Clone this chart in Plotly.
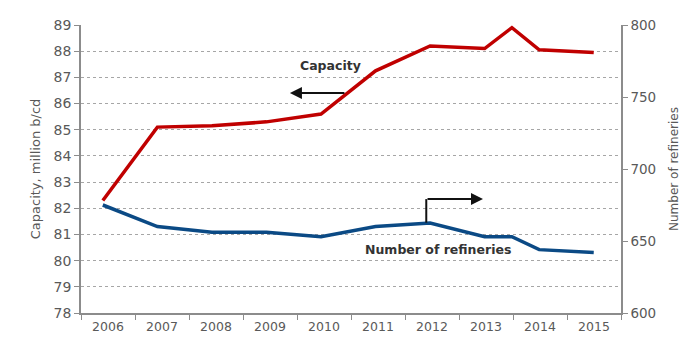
import numpy as np
import plotly.graph_objects as go

years = [2006, 2007, 2008, 2009, 2010, 2011, 2012, 2013, 2014, 2015]
year_labels = [str(y) for y in years]

cap_x = [2006, 2007, 2008, 2009, 2010, 2011, 2012, 2013, 2013.5, 2014, 2015]
capacity = [82.3, 85.1, 85.15, 85.3, 85.6, 87.25, 88.2, 88.1, 88.9, 88.05, 87.95]

ref_x = [2006, 2007, 2008, 2009, 2010, 2011, 2012, 2013, 2013.5, 2014, 2015]
refineries = [675, 660, 656, 656, 653, 660, 662.5, 653, 653, 644, 642]

left_ticks = list(range(78, 90))
right_ticks = [600, 650, 700, 750, 800]

XR = [2005.6, 2015.5]
bounds = list(np.linspace(XR[0], XR[1], len(years) + 1))
centers = [(bounds[i] + bounds[i + 1]) / 2 for i in range(len(years))]

FONT = "DejaVu Sans"
GRAY = "#595959"
AX = "#8c8c8c"

fig = go.Figure()
fig.add_trace(go.Scatter(x=cap_x, y=capacity, mode="lines",
                         line=dict(color="#C00000", width=3.5), xaxis="x", yaxis="y"))
fig.add_trace(go.Scatter(x=ref_x, y=refineries, mode="lines",
                         line=dict(color="#0B4A85", width=3.5), xaxis="x", yaxis="y2"))

fig.update_layout(
    width=700, height=351,
    margin=dict(l=81, r=79, t=25, b=38),
    paper_bgcolor="white", plot_bgcolor="white",
    showlegend=False,
    font=dict(family=FONT, color=GRAY),
    xaxis=dict(range=XR, tickmode="array", tickvals=bounds, showticklabels=False,
               ticks="outside", ticklen=5, tickcolor=AX, showgrid=False,
               showline=True, linecolor=AX, linewidth=1.5, zeroline=False),
    xaxis2=dict(range=XR, overlaying="x", tickmode="array", tickvals=centers,
                ticktext=year_labels, ticks="", showgrid=False, showline=False,
                zeroline=False, side="bottom", tickfont=dict(size=12.5, color=GRAY),
                ticklabelstandoff=4),
    yaxis=dict(range=[78, 89], tickmode="array", tickvals=left_ticks,
               ticks="outside", ticklen=5, tickcolor=AX,
               showgrid=True, gridcolor="#a6a6a6", griddash="dot", gridwidth=1,
               showline=True, linecolor=AX, linewidth=1.5, zeroline=False,
               tickfont=dict(size=14, color=GRAY),
               title=dict(text="Capacity, million b/cd", font=dict(size=13, color=GRAY),
                          standoff=10)),
    yaxis2=dict(range=[600, 800], overlaying="y", side="right", tickmode="array",
                tickvals=right_ticks, ticks="outside", ticklen=5, tickcolor=AX,
                showgrid=False, showline=True, linecolor=AX, linewidth=1.5,
                zeroline=False, tickfont=dict(size=13.5, color=GRAY),
                title=dict(text="Number of refineries", font=dict(size=12, color=GRAY),
                           standoff=14)),
)
# invisible trace to activate xaxis2 (label axis)
fig.add_trace(go.Scatter(x=[XR[0]], y=[78], mode="markers", marker=dict(opacity=0),
                         xaxis="x2", yaxis="y", hoverinfo="skip"))

# Capacity label and arrow
fig.add_annotation(x=2010.18, y=87.47, xref="x", yref="y", text="<b>Capacity</b>",
                   showarrow=False, font=dict(size=12.5, color="#333333", family=FONT))
fig.add_annotation(x=2009.43, y=86.4, xref="x", yref="y", ax=56, ay=0,
                   showarrow=True, arrowhead=2, arrowsize=1.2, arrowwidth=2,
                   arrowcolor="#111111", text="")

# Refineries label and arrow
fig.add_annotation(x=2012.15, y=80.42, xref="x", yref="y", text="<b>Number of refineries</b>",
                   showarrow=False, font=dict(size=12.5, color="#333333", family=FONT))
fig.add_shape(type="line", x0=2011.93, x1=2011.93, y0=81.45, y1=82.35, xref="x", yref="y",
              line=dict(color="#111111", width=2))
fig.add_annotation(x=2012.97, y=82.35, xref="x", yref="y", ax=-57, ay=0,
                   showarrow=True, arrowhead=2, arrowsize=1.2, arrowwidth=2,
                   arrowcolor="#111111", text="")

fig.write_html("out.html")
